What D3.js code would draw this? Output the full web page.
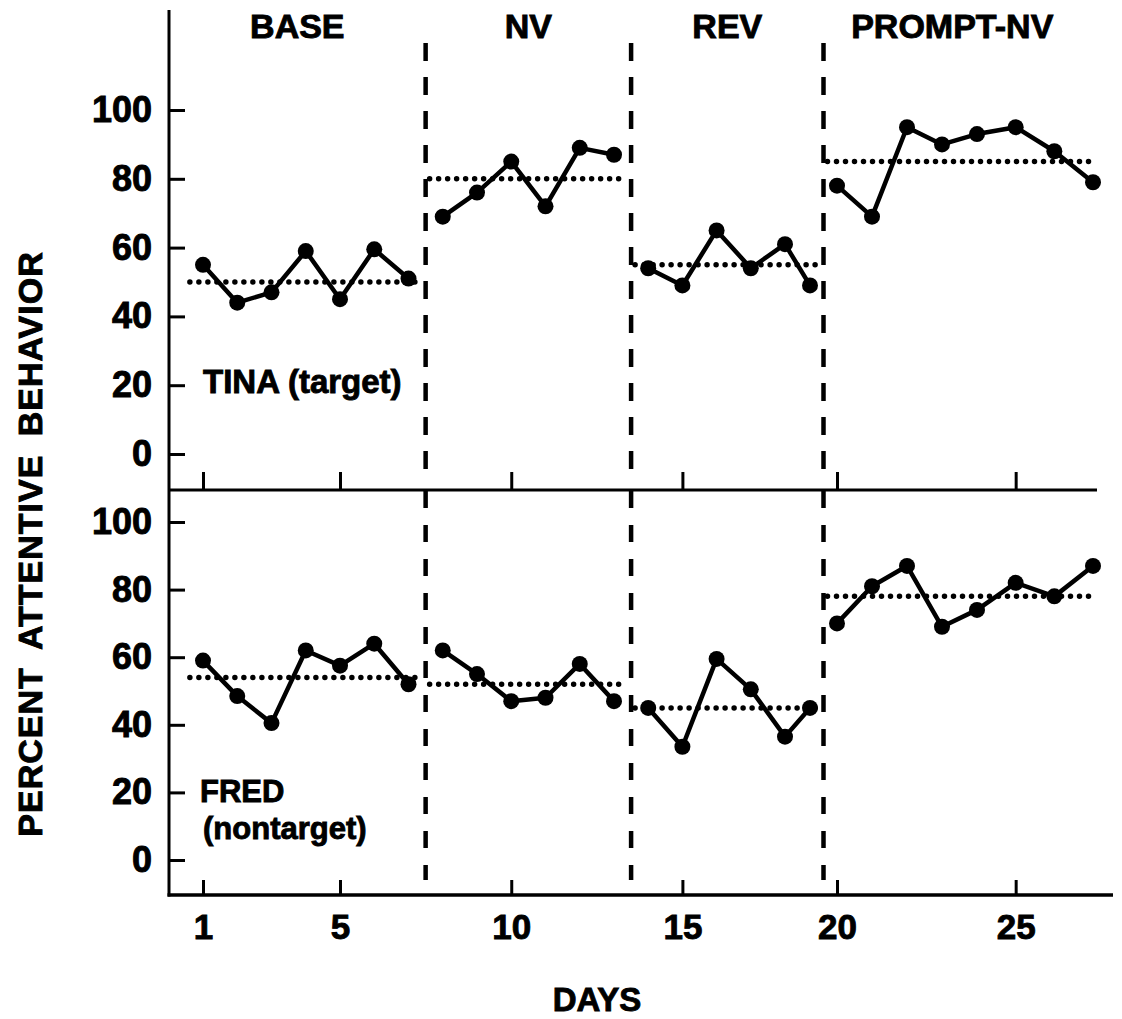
<!DOCTYPE html>
<html>
<head>
<meta charset="utf-8">
<script src="https://cdn.jsdelivr.net/npm/d3@7"></script>
<style>
  html, body { margin: 0; padding: 0; background: #fff; }
  svg { display: block; }
  text { font-family: "Liberation Sans", Arial, sans-serif; font-weight: bold; fill: #000; stroke: #000; stroke-width: 0.9px; }
</style>
</head>
<body>
<svg id="chart" width="1122" height="1019"></svg>
<script>
// ---------------- DATA ----------------
const days = [1,2,3,4,5,6,7,8,9,10,11,12,13,14,15,16,17,18,19,20,21,22,23,24,25,26,27];
const tinaValues = [55,44,47,59,45,59.5,51, 69,76,85,72,89,87, 54,49,65,54,61,49, 78,69,95,90,93,95,88,79];
const fredValues = [59,48.5,40.5,62,57.5,64,52, 62,55,47,48,58,47, 45,33.5,59.5,50.5,36.5,45, 70,81,87,69,74,82,78,87];
const phaseNames = ["BASE", "NV", "REV", "PROMPT-NV"];
const phaseStart = [1, 8, 14, 20];
const phaseEnd = [7, 13, 19, 27];
const tinaMeans = [50, 80, 55, 85];
const fredMeans = [54, 52, 45, 78];
const yTicks = [0, 20, 40, 60, 80, 100];
const xTicks = [1, 5, 10, 15, 20, 25];
const panelLabels = [["TINA (target)"], ["FRED", "(nontarget)"]];

// ---------------- LAYOUT ----------------
const svg = d3.select("#chart");
const axisX = 169;
const xEnd = 1097;
const bottomEnd = 1113;
const sepY = 490;
const bottomY = 895;

// hand-drawn day spacing in the original, modelled with a piecewise-linear scale
const x = d3.scaleLinear()
  .domain([1, 13, 18, 19, 20, 24, 27])
  .range([203, 614, 785, 810, 837, 977, 1093]);

const yTop = d3.scaleLinear().domain([0, 100]).range([454, 110]);
const yBot = d3.scaleLinear().domain([0, 100]).range([860, 522]);

// ---------------- AXES ----------------
function styleAxis(g, fontSize) {
  g.select(".domain").remove();
  g.selectAll(".tick line").attr("stroke", "#000").attr("stroke-width", 3);
  g.selectAll(".tick text").style("font-size", fontSize + "px").attr("font-family", null).attr("fill", "#000");
}

// y axes
[[yTop], [yBot]].forEach(([ys]) => {
  const g = svg.append("g").attr("transform", `translate(${axisX},0)`)
    .call(d3.axisLeft(ys).tickValues(yTicks).tickSizeInner(-16).tickSizeOuter(0).tickPadding(17));
  styleAxis(g, 36);
});

// top panel bottom edge ticks (no labels)
const gSep = svg.append("g").attr("transform", `translate(0,${sepY})`)
  .call(d3.axisBottom(x).tickValues(xTicks).tickSizeInner(-18).tickSizeOuter(0).tickFormat(""));
styleAxis(gSep, 34);

// bottom x axis
const gX = svg.append("g").attr("transform", `translate(0,${bottomY})`)
  .call(d3.axisBottom(x).tickValues(xTicks).tickSizeInner(-15).tickSizeOuter(0).tickPadding(19));
styleAxis(gX, 35);

// axis lines
svg.append("line").attr("x1", axisX).attr("x2", axisX).attr("y1", 10).attr("y2", bottomY + 1.5)
  .attr("stroke", "#000").attr("stroke-width", 3);
svg.append("line").attr("x1", axisX).attr("x2", xEnd).attr("y1", sepY).attr("y2", sepY)
  .attr("stroke", "#000").attr("stroke-width", 3);
svg.append("line").attr("x1", axisX - 1.5).attr("x2", bottomEnd).attr("y1", bottomY).attr("y2", bottomY)
  .attr("stroke", "#000").attr("stroke-width", 3.5);

// ---------------- PHASE BOUNDARIES ----------------
const boundaries = phaseEnd.slice(0, -1).map((e, i) => (e + phaseStart[i + 1]) / 2);
boundaries.forEach(b => {
  svg.append("line").attr("x1", x(b)).attr("x2", x(b)).attr("y1", 43).attr("y2", 474)
    .attr("stroke", "#000").attr("stroke-width", 4.5).attr("stroke-dasharray", "18,16");
  svg.append("line").attr("x1", x(b)).attr("x2", x(b)).attr("y1", 491).attr("y2", 880)
    .attr("stroke", "#000").attr("stroke-width", 4.5).attr("stroke-dasharray", "17,17");
});

// phase titles
const edges = [axisX, ...boundaries.map(b => x(b)), xEnd];
phaseNames.forEach((name, i) => {
  svg.append("text").attr("x", (edges[i] + edges[i + 1]) / 2 - (i === 3 ? 8 : 0)).attr("y", 38)
    .attr("text-anchor", "middle").style("font-size", "34px").text(name);
});

// ---------------- DATA MARKS ----------------
function drawPanel(values, means, ys) {
  const g = svg.append("g");
  const line = d3.line().x(d => x(d.day)).y(d => ys(d.v));
  phaseNames.forEach((name, i) => {
    const pts = days.map((d, k) => ({ day: d, v: values[k] }))
      .filter(p => p.day >= phaseStart[i] && p.day <= phaseEnd[i]);
    // mean (dotted) line
    const left = x(phaseStart[i] - 0.5) + 4;
    const right = i === phaseNames.length - 1 ? x(phaseEnd[i]) + 3 : x(phaseEnd[i] + 0.5) - 4;
    g.append("line").attr("x1", left).attr("x2", right)
      .attr("y1", ys(means[i])).attr("y2", ys(means[i]))
      .attr("stroke", "#000").attr("stroke-width", 5.5)
      .attr("stroke-linecap", "round").attr("stroke-dasharray", "0,9");
    g.append("path").datum(pts).attr("d", line)
      .attr("fill", "none").attr("stroke", "#000").attr("stroke-width", 4.5)
      .attr("stroke-linejoin", "round");
    g.selectAll(null).data(pts).enter().append("circle")
      .attr("cx", d => x(d.day)).attr("cy", d => ys(d.v)).attr("r", 8).attr("fill", "#000");
  });
}
drawPanel(tinaValues, tinaMeans, yTop);
drawPanel(fredValues, fredMeans, yBot);

// panel labels
svg.append("text").attr("x", 203).attr("y", 393).style("font-size", "33px").text(panelLabels[0][0]);
svg.append("text").attr("x", 200).attr("y", 802).style("font-size", "31px").text(panelLabels[1][0]);
svg.append("text").attr("x", 203).attr("y", 839).style("font-size", "31px").text(panelLabels[1][1]);

// axis titles
svg.append("text").attr("transform", "translate(42,544) rotate(-90)")
  .attr("text-anchor", "middle").style("font-size", "34px").style("letter-spacing", "1px")
  .style("word-spacing", "8px")
  .text("PERCENT ATTENTIVE BEHAVIOR");
svg.append("text").attr("x", 597).attr("y", 1011).attr("text-anchor", "middle")
  .style("font-size", "33px").text("DAYS");
</script>
</body>
</html>
